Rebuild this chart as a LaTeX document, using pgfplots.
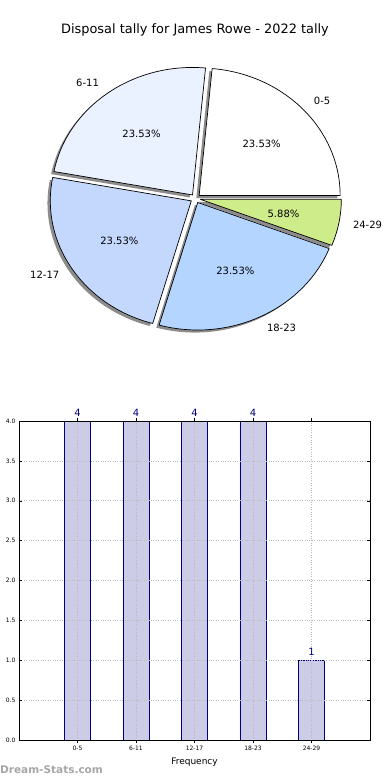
\documentclass[border=0pt]{standalone}
\usepackage{pgfplots}
\pgfplotsset{compat=1.18}
\usepackage{pgfplotstable}
\usepackage{fontspec}
\setmainfont{DejaVu Sans}
\definecolor{c1}{HTML}{FFFFFF}
\definecolor{c2}{HTML}{EAF1FF}
\definecolor{c3}{HTML}{C4D8FE}
\definecolor{c4}{HTML}{B3D5FF}
\definecolor{c5}{HTML}{CFEC8A}
\definecolor{barfill}{HTML}{CCCCE6}
\definecolor{navy}{HTML}{00007F}
\newcommand\labfont{\fontsize{10}{12}\selectfont}

\pgfplotstableread{
idx label n color
0 0-5 4 c1
1 6-11 4 c2
2 12-17 4 c3
3 18-23 4 c4
4 24-29 1 c5
}\pietable

\pgfplotstableread{
x n
0 4
1 4
2 4
3 4
4 1
}\bartable

\def\explode{0.035}
\newcommand\pieloop[1]{%
  \def\cum{0}%
  \pgfplotsforeachungrouped \i in {0,...,\nrows}{%
    \pgfplotstablegetelem{\i}{n}\of\pietable \let\nv\pgfplotsretval
    \pgfplotstablegetelem{\i}{color}\of\pietable \let\cv\pgfplotsretval
    \pgfplotstablegetelem{\i}{label}\of\pietable \let\lv\pgfplotsretval
    \pgfmathsetmacro\aS{\cum/\total*360}%
    \pgfmathsetmacro\aE{(\cum+\nv)/\total*360}%
    \pgfmathsetmacro\aM{(\aS+\aE)/2}%
    \pgfmathsetmacro\cx{\explode*cos(\aM)}%
    \pgfmathsetmacro\cy{\explode*sin(\aM)}%
    #1%
    \pgfmathsetmacro\cum{\cum+\nv}%
  }}

\begin{document}
\begin{tikzpicture}
\useasboundingbox (0,0) rectangle (390pt,-780pt);
\node[font=\fontsize{12.9}{15}\selectfont] at (195pt,-30pt) {Disposal tally for James Rowe - 2022 tally};

\pgfplotstablegetrowsof{\pietable}
\pgfmathtruncatemacro\nrows{\pgfplotsretval-1}
\def\total{0}
\pgfplotsforeachungrouped \i in {0,...,\nrows}{%
  \pgfplotstablegetelem{\i}{n}\of\pietable
  \pgfmathsetmacro\total{\total+\pgfplotsretval}}

\begin{axis}[hide axis, x=141pt, y=127.5pt, xmin=-1.3, xmax=1.3, ymin=-1.3, ymax=1.3,
  anchor=origin, at={(195.5pt,-198.5pt)}, clip=false]
% shadows
\pieloop{%
  \pgfmathsetmacro\sx{\cx-0.02}\pgfmathsetmacro\sy{\cy-0.02}%
  \pgfmathsetmacro\px{\sx+cos(\aS)}\pgfmathsetmacro\py{\sy+sin(\aS)}%
  \edef\temp{\noexpand\fill[black, opacity=0.45] (axis cs:\sx,\sy) -- (axis cs:\px,\py) arc[start angle=\aS, end angle=\aE, x radius=141pt, y radius=127.5pt] -- cycle;}\temp}
% wedges
\pieloop{%
  \pgfmathsetmacro\px{\cx+cos(\aS)}\pgfmathsetmacro\py{\cy+sin(\aS)}%
  \edef\temp{\noexpand\filldraw[fill=\cv, draw=black, line width=0.7pt, line join=round] (axis cs:\cx,\cy) -- (axis cs:\px,\py) arc[start angle=\aS, end angle=\aE, x radius=141pt, y radius=127.5pt] -- cycle;}\temp}
% labels
\pieloop{%
  \pgfmathsetmacro\lx{\cx+1.1*cos(\aM)}\pgfmathsetmacro\ly{\cy+1.1*sin(\aM)}%
  \pgfmathsetmacro\ox{\cx+0.6*cos(\aM)}\pgfmathsetmacro\oy{\cy+0.6*sin(\aM)}%
  \pgfmathtruncatemacro\pos{cos(\aM)>0}%
  \ifnum\pos=1 \def\anc{west}\else\def\anc{east}\fi
  \pgfmathsetmacro\pct{\nv/\total*100}%
  \pgfmathprintnumberto[fixed,fixed zerofill,precision=2,assume math mode=true]{\pct}{\pctstr}%
  \edef\temp{\noexpand\node[anchor=\anc, inner sep=0pt, font=\noexpand\labfont] at (axis cs:\lx,\ly) {\lv};
    \noexpand\node[inner sep=0pt, font=\noexpand\labfont] at (axis cs:\ox,\oy) {\pctstr\noexpand\%};}\temp}
\end{axis}

\begin{axis}[
  at={(19pt,-740pt)}, anchor=south west,
  scale only axis, width=351pt, height=319pt,
  xmin=-1, xmax=5, ymin=0, ymax=4,
  xtick={0,1,2,3,4}, xticklabels={0-5,6-11,12-17,18-23,24-29},
  ytick={0,0.5,...,4},
  /pgf/number format/assume math mode=true,
  yticklabel style={/pgf/number format/fixed,/pgf/number format/fixed zerofill,/pgf/number format/precision=1},
  ticklabel style={font=\fontsize{6}{7}\selectfont},
  tick align=inside, major tick length=3pt,
  tick style={black, line width=0.5pt},
  grid=major, major grid style={gray!55, dotted, line width=0.7pt},
  axis on top, clip=false,
  axis line style={line width=0.8pt},
  xlabel={Frequency}, xlabel style={font=\fontsize{9}{11}\selectfont},
  ybar, bar width=26pt,
  nodes near coords, nodes near coords style={font=\fontsize{10}{12}\selectfont, text=navy, yshift=1pt},
]
\addplot[fill=barfill, draw=navy, line width=0.6pt] table[x=x, y=n] {\bartable};
\end{axis}

\node[anchor=west, inner sep=0pt, text=gray!70, font=\bfseries\fontsize{10.5}{12}\selectfont] at (0pt,-770pt) {Dream-Stats.com};
\end{tikzpicture}
\end{document}
